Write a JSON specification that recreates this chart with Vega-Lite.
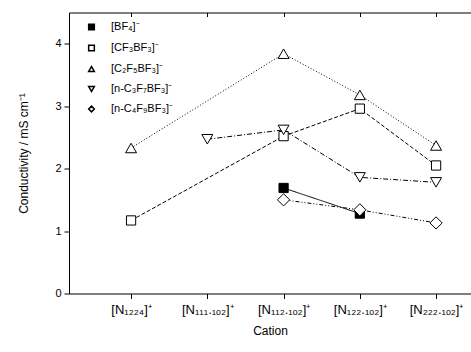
{
  "$schema": "https://vega.github.io/schema/vega-lite/v6.json",
  "width": 402,
  "height": 281,
  "autosize": {"type": "none"},
  "padding": {"left": 69, "top": 12.5, "right": 0, "bottom": 58.5},
  "background": "white",
  "config": {
    "view": {"stroke": null},
    "font": "Liberation Sans",
    "axis": {"domainColor": "black", "tickColor": "black", "labelColor": "black", "titleColor": "black", "labelFont": "Liberation Sans", "titleFont": "Liberation Sans", "titleFontWeight": "normal", "grid": false},
    "legend": {"labelFont": "Liberation Sans"}
  },
  "data": {
    "values": [
      {"cation": "[N₁₁₂.₁ₒ₂]⁺", "anion": "[BF₄]⁻", "conductivity": 1.69},
      {"cation": "[N₁₂₂.₁ₒ₂]⁺", "anion": "[BF₄]⁻", "conductivity": 1.28},
      {"cation": "[N₁₂₂₄]⁺", "anion": "[CF₃BF₃]⁻", "conductivity": 1.17},
      {"cation": "[N₁₁₂.₁ₒ₂]⁺", "anion": "[CF₃BF₃]⁻", "conductivity": 2.52},
      {"cation": "[N₁₂₂.₁ₒ₂]⁺", "anion": "[CF₃BF₃]⁻", "conductivity": 2.96},
      {"cation": "[N₂₂₂.₁ₒ₂]⁺", "anion": "[CF₃BF₃]⁻", "conductivity": 2.05},
      {"cation": "[N₁₂₂₄]⁺", "anion": "[C₂F₅BF₃]⁻", "conductivity": 2.33},
      {"cation": "[N₁₁₂.₁ₒ₂]⁺", "anion": "[C₂F₅BF₃]⁻", "conductivity": 3.84},
      {"cation": "[N₁₂₂.₁ₒ₂]⁺", "anion": "[C₂F₅BF₃]⁻", "conductivity": 3.18},
      {"cation": "[N₂₂₂.₁ₒ₂]⁺", "anion": "[C₂F₅BF₃]⁻", "conductivity": 2.37},
      {"cation": "[N₁₁₁.₁ₒ₂]⁺", "anion": "[n-C₃F₇BF₃]⁻", "conductivity": 2.47},
      {"cation": "[N₁₁₂.₁ₒ₂]⁺", "anion": "[n-C₃F₇BF₃]⁻", "conductivity": 2.62},
      {"cation": "[N₁₂₂.₁ₒ₂]⁺", "anion": "[n-C₃F₇BF₃]⁻", "conductivity": 1.86},
      {"cation": "[N₂₂₂.₁ₒ₂]⁺", "anion": "[n-C₃F₇BF₃]⁻", "conductivity": 1.78},
      {"cation": "[N₁₁₂.₁ₒ₂]⁺", "anion": "[n-C₄F₉BF₃]⁻", "conductivity": 1.50},
      {"cation": "[N₁₂₂.₁ₒ₂]⁺", "anion": "[n-C₄F₉BF₃]⁻", "conductivity": 1.34},
      {"cation": "[N₂₂₂.₁ₒ₂]⁺", "anion": "[n-C₄F₉BF₃]⁻", "conductivity": 1.13}
    ]
  },
  "resolve": {"axis": {"x": "independent"}},
  "layer": [
    {
      "mark": {"type": "line", "color": "black", "strokeWidth": 1},
      "encoding": {
        "x": {"field": "cation", "type": "ordinal", "sort": ["[N₁₂₂₄]⁺", "[N₁₁₁.₁ₒ₂]⁺", "[N₁₁₂.₁ₒ₂]⁺", "[N₁₂₂.₁ₒ₂]⁺", "[N₂₂₂.₁ₒ₂]⁺"],
          "scale": {"type": "point", "padding": 0.636, "align": 0.64},
          "axis": {"orient": "bottom", "title": "Cation", "labelAngle": 0, "labelFontSize": 13, "titleFontSize": 12, "tickSize": 5, "labelPadding": 5, "titlePadding": 9}},
        "y": {"field": "conductivity", "type": "quantitative", "scale": {"domain": [0, 4.5]},
          "axis": {"title": "Conductivity / mS cm⁻¹", "values": [0, 1, 2, 3, 4], "format": "d", "labelFontSize": 11, "titleFontSize": 12, "tickSize": 5, "labelPadding": 3, "titlePadding": 24}},
        "detail": {"field": "anion", "type": "nominal"},
        "strokeDash": {
          "condition": [
            {"test": "datum.anion === '[CF₃BF₃]⁻'", "value": [4, 2]},
            {"test": "datum.anion === '[C₂F₅BF₃]⁻'", "value": [1, 2]},
            {"test": "datum.anion === '[n-C₃F₇BF₃]⁻'", "value": [5, 2, 1, 2]},
            {"test": "datum.anion === '[n-C₄F₉BF₃]⁻'", "value": [4, 2, 1, 2, 1, 2]}
          ],
          "value": [1, 0]
        }
      }
    },
    {
      "mark": {"type": "point", "stroke": "black", "strokeWidth": 1, "opacity": 1},
      "encoding": {
        "x": {"field": "cation", "type": "ordinal", "sort": ["[N₁₂₂₄]⁺", "[N₁₁₁.₁ₒ₂]⁺", "[N₁₁₂.₁ₒ₂]⁺", "[N₁₂₂.₁ₒ₂]⁺", "[N₂₂₂.₁ₒ₂]⁺"],
          "axis": {"orient": "top", "title": null, "labels": false, "tickSize": -4, "domainColor": "black"}},
        "y": {"field": "conductivity", "type": "quantitative"},
        "shape": {"field": "anion", "type": "nominal",
          "scale": {"domain": ["[BF₄]⁻", "[CF₃BF₃]⁻", "[C₂F₅BF₃]⁻", "[n-C₃F₇BF₃]⁻", "[n-C₄F₉BF₃]⁻"],
            "range": ["square", "square", "triangle-up", "triangle-down", "diamond"]},
          "legend": {"title": null, "orient": "none", "legendX": 17, "legendY": 9, "labelFontSize": 11, "symbolSize": 32, "rowPadding": 8, "labelColor": "black", "labelOffset": 14,
            "encode": {"symbols": {"update": {"stroke": {"value": "black"}, "strokeWidth": {"value": 1}}}}}},
        "fill": {"field": "anion", "type": "nominal",
          "scale": {"domain": ["[BF₄]⁻", "[CF₃BF₃]⁻", "[C₂F₅BF₃]⁻", "[n-C₃F₇BF₃]⁻", "[n-C₄F₉BF₃]⁻"],
            "range": ["black", "white", "white", "white", "white"]},
          "legend": {"title": null, "orient": "none", "legendX": 17, "legendY": 9, "labelFontSize": 11, "symbolSize": 32, "rowPadding": 8, "labelColor": "black", "labelOffset": 14,
            "encode": {"symbols": {"update": {"stroke": {"value": "black"}, "strokeWidth": {"value": 1}}}}}},
        "size": {
          "condition": [
            {"test": "datum.anion === '[n-C₄F₉BF₃]⁻'", "value": 150},
            {"test": "indexof(datum.anion, 'BF₃') >= 0 && indexof(datum.anion, 'CF₃') < 0", "value": 120}
          ],
          "value": 85
        }
      }
    }
  ]
}
